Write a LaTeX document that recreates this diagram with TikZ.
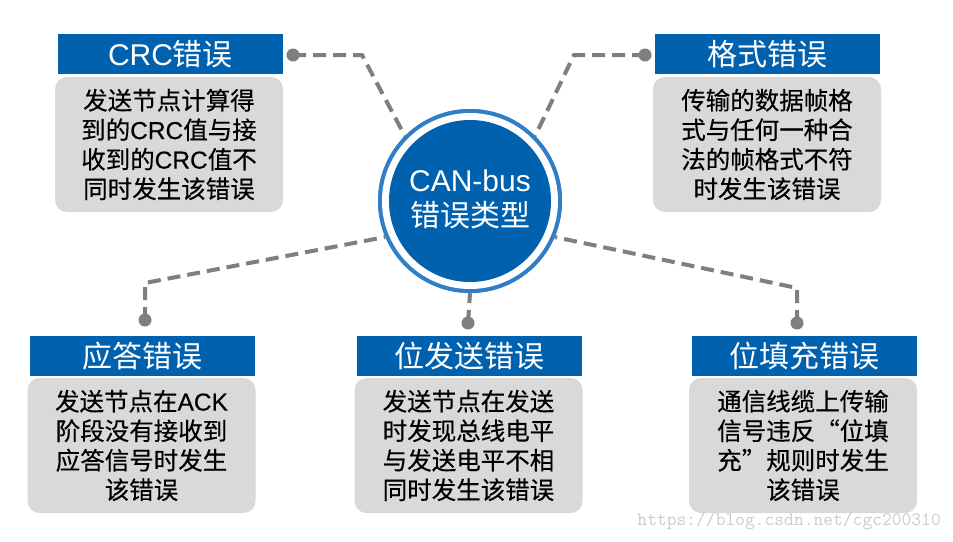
\documentclass[tikz,border=0pt]{standalone}
\usepackage{fontspec}
\setmainfont{Noto Sans CJK SC}
\newfontfamily\lat{Liberation Sans}
\newfontfamily\bodyfont{Noto Sans CJK SC}[FakeBold=0.35]
\newfontfamily\latb{Liberation Sans}[FakeBold=0.35]
\definecolor{barblue}{HTML}{0061AF}
\definecolor{ringblue}{HTML}{2F7EC6}
\definecolor{boxgray}{HTML}{D9D9D9}
\definecolor{conngray}{HTML}{7F7F7F}
\definecolor{wmgray}{HTML}{CCCCCC}
\begin{document}
\begin{tikzpicture}[x=1pt,y=-1pt,
  titlebar/.style={rectangle, fill=barblue, text=white, minimum width=225pt, minimum height=40pt, inner sep=0pt,
    font=\fontsize{30}{34}\selectfont},
  bodybox/.style={rectangle, rounded corners=12pt, fill=boxgray, text=black, minimum width=228pt, minimum height=135pt,
    inner sep=0pt, align=center, font=\bodyfont\fontsize{24.5}{29.5}\selectfont},
  conn/.style={draw=conngray, line width=4pt, dash pattern=on 13pt off 7pt},
  dotnode/.style={circle, fill=conngray, minimum size=13pt, inner sep=0pt}]
\useasboundingbox (0,0) rectangle (953,541);
\fill[white] (0,0) rectangle (953,541);

% hub
\node[circle, fill=ringblue, minimum size=184pt, inner sep=0pt] (hub) at (470,201) {};

% titles
\node[titlebar] (t1) at (170.5,54) {{\lat CRC}错误};
\node[titlebar] (t2) at (767.5,54) {格式错误};
\node[titlebar] (t3) at (142.5,356) {应答错误};
\node[titlebar] (t4) at (469,356) {位发送错误};
\node[titlebar] (t5) at (804,356) {位填充错误};

% bodies
\node[bodybox] (b1) at (169,144.5) {发送节点计算得\\到的{\latb CRC}值与接\\收到的{\latb CRC}值不\\同时发生该错误};
\node[bodybox] (b2) at (767,144.5) {传输的数据帧格\\式与任何一种合\\法的帧格式不符\\时发生该错误};
\node[bodybox] (b3) at (141.5,445.5) {发送节点在{\latb ACK}\\阶段没有接收到\\应答信号时发生\\该错误};
\node[bodybox] (b4) at (468.5,445.5) {发送节点在发送\\时发现总线电平\\与发送电平不相\\同时发生该错误};
\node[bodybox] (b5) at (803,445.5) {通信线缆上传输\\信号违反“位填\\充”规则时发生\\该错误};

% dots and corners
\node[dotnode] (d1) at (293,55) {};
\node[dotnode] (d2) at (645,55) {};
\node[dotnode] (d3) at (145,320) {};
\node[dotnode] (d4) at (468,323) {};
\node[dotnode] (d5) at (797,323) {};
\coordinate (k1) at (362,55);
\coordinate (k2) at (574,55);
\coordinate (k3) at (145,283);
\coordinate (k5) at (797,288);

\draw[conn] (d1.center) -- (k1) -- (hub.135);
\draw[conn] (d2.center) -- (k2) -- (hub.45);
\draw[conn] (d3.center) -- (k3) -- (hub.203);
\draw[conn] (d4.center) -- (hub.270);
\draw[conn] (d5.center) -- (k5) -- (hub.337);

% hub on top
\fill[ringblue] (hub.center) circle (92pt);
\fill[white] (hub.center) circle (88pt);
\fill[barblue] (hub.center) circle (81pt);
\node[text=white, align=center, font=\fontsize{30}{35}\selectfont, inner sep=0pt] (hubtext) at (470,199.5) {{\lat CAN-bus}\\错误类型};

% watermark
\node[anchor=east, text=wmgray, inner sep=0pt, font=\ttfamily\fontsize{19}{19}\selectfont] (wm) at (941,521) {https://blog.csdn.net/cgc200310};
\end{tikzpicture}
\end{document}
